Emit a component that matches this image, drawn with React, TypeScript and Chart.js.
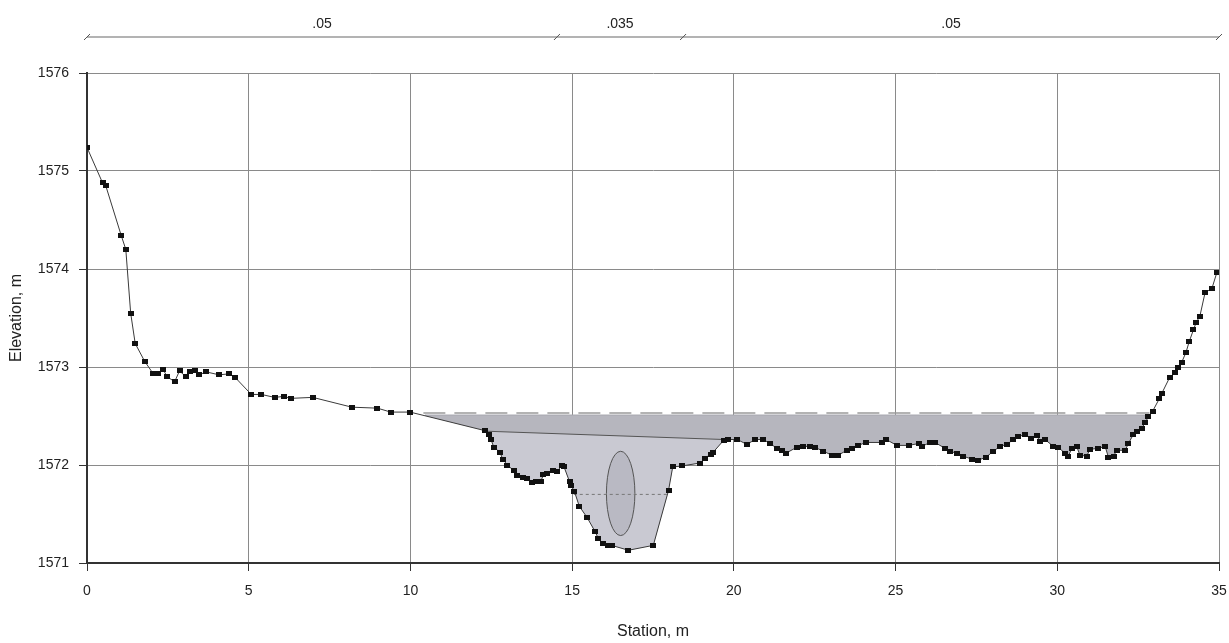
import React, { useEffect, useRef } from 'react';
import { Chart, registerables } from 'chart.js';

Chart.register(...registerables);

// Ground profile (station m, elevation m)
const groundStation = [
  0.0, 0.48, 0.58, 1.06, 1.2, 1.35, 1.49, 1.78, 2.05, 2.2, 2.36, 2.48, 2.71, 2.86, 3.06, 3.2, 3.35, 3.47, 3.68,
  4.09, 4.38, 4.59, 5.08, 5.39, 5.8, 6.09, 6.3, 6.98, 8.19, 8.98, 9.39, 9.99, 12.31, 12.44, 12.49, 12.58, 12.77,
  12.85, 13.0, 13.2, 13.29, 13.49, 13.6, 13.75, 13.88, 14.03, 14.11, 14.21, 14.42, 14.52, 14.68, 14.75, 14.92,
  14.97, 15.07, 15.22, 15.47, 15.71, 15.81, 15.94, 16.12, 16.22, 16.74, 17.51, 17.98, 18.11, 18.39, 18.95, 19.11,
  19.28, 19.36, 19.68, 19.83, 20.11, 20.4, 20.66, 20.91, 21.12, 21.33, 21.48, 21.61, 21.94, 22.15, 22.36, 22.51,
  22.77, 23.03, 23.23, 23.49, 23.64, 23.85, 24.08, 24.57, 24.71, 25.04, 25.4, 25.73, 25.81, 26.07, 26.22, 26.53,
  26.68, 26.89, 27.1, 27.35, 27.56, 27.8, 28.02, 28.23, 28.44, 28.64, 28.8, 29.0, 29.18, 29.36, 29.47, 29.62,
  29.88, 30.03, 30.24, 30.34, 30.45, 30.6, 30.7, 30.91, 31.01, 31.27, 31.48, 31.58, 31.74, 31.84, 32.1, 32.2,
  32.35, 32.46, 32.61, 32.71, 32.82, 32.95, 33.16, 33.23, 33.47, 33.64, 33.74, 33.85, 33.98, 34.08, 34.21,
  34.29, 34.41, 34.57, 34.78, 34.93,
];
const groundElevation = [
  1575.24, 1574.88, 1574.85, 1574.34, 1574.2, 1573.55, 1573.24, 1573.06, 1572.93, 1572.93, 1572.97, 1572.9,
  1572.85, 1572.96, 1572.9, 1572.95, 1572.96, 1572.92, 1572.95, 1572.92, 1572.93, 1572.89, 1572.72, 1572.72,
  1572.69, 1572.7, 1572.68, 1572.69, 1572.59, 1572.58, 1572.54, 1572.54, 1572.35, 1572.31, 1572.26, 1572.18,
  1572.13, 1572.06, 1572.0, 1571.94, 1571.89, 1571.87, 1571.86, 1571.82, 1571.83, 1571.83, 1571.9, 1571.91,
  1571.94, 1571.93, 1571.99, 1571.98, 1571.83, 1571.79, 1571.73, 1571.58, 1571.46, 1571.32, 1571.25, 1571.2,
  1571.18, 1571.18, 1571.13, 1571.18, 1571.74, 1571.98, 1571.99, 1572.02, 1572.07, 1572.11, 1572.13, 1572.25,
  1572.26, 1572.26, 1572.21, 1572.26, 1572.26, 1572.22, 1572.17, 1572.15, 1572.12, 1572.18, 1572.19, 1572.19,
  1572.18, 1572.14, 1572.1, 1572.1, 1572.15, 1572.17, 1572.2, 1572.23, 1572.23, 1572.26, 1572.2, 1572.2,
  1572.22, 1572.19, 1572.23, 1572.23, 1572.17, 1572.14, 1572.12, 1572.09, 1572.06, 1572.05, 1572.08, 1572.14,
  1572.19, 1572.21, 1572.26, 1572.29, 1572.31, 1572.27, 1572.3, 1572.24, 1572.26, 1572.19, 1572.18, 1572.12,
  1572.09, 1572.17, 1572.19, 1572.1, 1572.09, 1572.16, 1572.17, 1572.19, 1572.08, 1572.09, 1572.15, 1572.15,
  1572.22, 1572.31, 1572.34, 1572.37, 1572.43, 1572.49, 1572.55, 1572.68, 1572.73, 1572.89, 1572.94, 1573.0,
  1573.05, 1573.15, 1573.26, 1573.38, 1573.45, 1573.52, 1573.76, 1573.8, 1573.96,
];

// Water surface
const waterStation = [10.45, 32.84];
const waterElevation = [1572.51, 1572.51];

// Energy grade (dashed)
const energyStation = [10.4, 32.85];
const energyElevation = [1572.53, 1572.53];

// Bank / inner boundary line
const bankStation = [12.33, 19.7];
const bankElevation = [1572.345, 1572.26];

// Dotted line in the main channel
const dottedStation = [15.05, 18.0];
const dottedElevation = [1571.7, 1571.7];

// Ellipse (obstruction) centre and semi-axes in data units
const ellipseCenter = [16.5, 1571.71];
const ellipseSemiAxes = [0.44, 0.43];

// Manning's n segments
const nBreaks = [0, 14.53, 18.43, 35];
const nValues = ['.05', '.035', '.05'];

const FONT = '"Liberation Sans", Arial, sans-serif';

const pts = (xs: number[], ys: number[]) => xs.map((x, i) => ({ x, y: ys[i] }));

export default function App() {
  const ref = useRef<HTMLCanvasElement | null>(null);

  useEffect(() => {
    document.body.style.margin = '0';
    const canvas = ref.current;
    if (!canvas) return;

    const marker = document.createElement('canvas');
    marker.width = 6;
    marker.height = 5;
    const mctx = marker.getContext('2d')!;
    mctx.fillStyle = '#111';
    mctx.fillRect(0, 0, 6, 5);

    const nBarPlugin = {
      id: 'nbar',
      afterDraw(chart: any) {
        const ctx = chart.ctx;
        const xs = chart.scales.x;
        const y = 37;
        ctx.save();
        ctx.strokeStyle = '#9a9a9a';
        ctx.lineWidth = 1.5;
        ctx.beginPath();
        ctx.moveTo(xs.getPixelForValue(nBreaks[0]), y);
        ctx.lineTo(xs.getPixelForValue(nBreaks[nBreaks.length - 1]), y);
        ctx.stroke();
        ctx.strokeStyle = '#555';
        ctx.lineWidth = 1;
        nBreaks.forEach((b) => {
          const px = xs.getPixelForValue(b);
          ctx.beginPath();
          ctx.moveTo(px - 3, y + 3);
          ctx.lineTo(px + 3, y - 3);
          ctx.stroke();
        });
        ctx.fillStyle = '#222';
        ctx.font = `14px ${FONT}`;
        ctx.textAlign = 'center';
        ctx.textBaseline = 'middle';
        nValues.forEach((v, i) => {
          const mid = (nBreaks[i] + nBreaks[i + 1]) / 2;
          ctx.fillText(v, xs.getPixelForValue(mid), 24);
        });
        ctx.restore();
      },
    };

    const ellipsePlugin = {
      id: 'ellipse',
      afterDatasetDraw(chart: any, args: any) {
        if (args.index !== 2) return;
        const ctx = chart.ctx;
        const xs = chart.scales.x;
        const ys = chart.scales.y;
        const cx = xs.getPixelForValue(ellipseCenter[0]);
        const cy = ys.getPixelForValue(ellipseCenter[1]);
        const rx = xs.getPixelForValue(ellipseCenter[0] + ellipseSemiAxes[0]) - cx;
        const ry = cy - ys.getPixelForValue(ellipseCenter[1] + ellipseSemiAxes[1]);
        ctx.save();
        ctx.beginPath();
        ctx.ellipse(cx, cy, rx, ry, 0, 0, Math.PI * 2);
        ctx.fillStyle = '#b9b9c3';
        ctx.fill();
        ctx.strokeStyle = '#555';
        ctx.lineWidth = 1;
        ctx.stroke();
        ctx.restore();
      },
    };

    const chart = new Chart(canvas, {
      type: 'line',
      data: {
        datasets: [
          {
            label: 'Ground',
            data: pts(groundStation, groundElevation),
            borderColor: '#3a3a3a',
            borderWidth: 1,
            pointStyle: marker as any,
            pointRadius: 3,
            fill: false,
          },
          {
            label: 'Dotted',
            data: pts(dottedStation, dottedElevation),
            borderColor: '#777',
            borderWidth: 1,
            borderDash: [3, 3],
            pointRadius: 0,
            fill: false,
          },
          {
            label: 'Bank',
            data: pts(bankStation, bankElevation),
            borderColor: '#555',
            borderWidth: 1,
            pointRadius: 0,
            backgroundColor: '#c9c9d2',
            fill: 0,
          },
          {
            label: 'WS',
            data: pts(waterStation, waterElevation),
            borderColor: '#a8a8b0',
            borderWidth: 1,
            pointRadius: 0,
            backgroundColor: '#b6b6be',
            fill: 0,
          },
          {
            label: 'EG',
            data: pts(energyStation, energyElevation),
            borderColor: '#9a9a9a',
            borderWidth: 1.5,
            borderDash: [22, 9],
            pointRadius: 0,
            fill: false,
          },
        ],
      },
      options: {
        responsive: false,
        animation: false,
        devicePixelRatio: 1,
        layout: { padding: { top: 73, right: 10, left: 0, bottom: 0 } },
        plugins: { legend: { display: false }, tooltip: { enabled: false } },
        scales: {
          x: {
            type: 'linear',
            min: 0,
            max: 35,
            ticks: {
              stepSize: 5,
              color: '#222',
              font: { family: FONT, size: 14 },
              padding: 12,
              callback: (v: any) => String(v),
            },
            grid: { color: '#8a8a8a', lineWidth: 1, tickColor: '#333', tickLength: 8 },
            border: { color: '#333', width: 2 },
            title: {
              display: true,
              text: 'Station, m',
              color: '#222',
              font: { family: FONT, size: 16 },
              padding: { top: 0, bottom: 2 },
            },
            afterFit: (s: any) => {
              s.height = 80;
              s.paddingLeft = 0;
              s.paddingRight = 0;
            },
          },
          y: {
            type: 'linear',
            min: 1571,
            max: 1576,
            ticks: {
              stepSize: 1,
              color: '#222',
              font: { family: FONT, size: 14 },
              padding: 10,
              callback: (v: any) => String(v),
            },
            grid: { color: '#8a8a8a', lineWidth: 1, tickColor: '#333', tickLength: 8 },
            border: { color: '#333', width: 2 },
            title: {
              display: true,
              text: 'Elevation, m',
              color: '#222',
              font: { family: FONT, size: 16 },
              padding: { top: 7, bottom: 0 },
            },
            afterFit: (s: any) => {
              s.width = 87;
              s.paddingTop = 0;
              s.paddingBottom = 0;
            },
          },
        },
      },
      plugins: [nBarPlugin, ellipsePlugin],
    });

    return () => chart.destroy();
  }, []);

  return (
    <div style={{ width: 1229, height: 643 }}>
      <canvas ref={ref} width={1229} height={643} style={{ display: 'block' }} />
    </div>
  );
}
